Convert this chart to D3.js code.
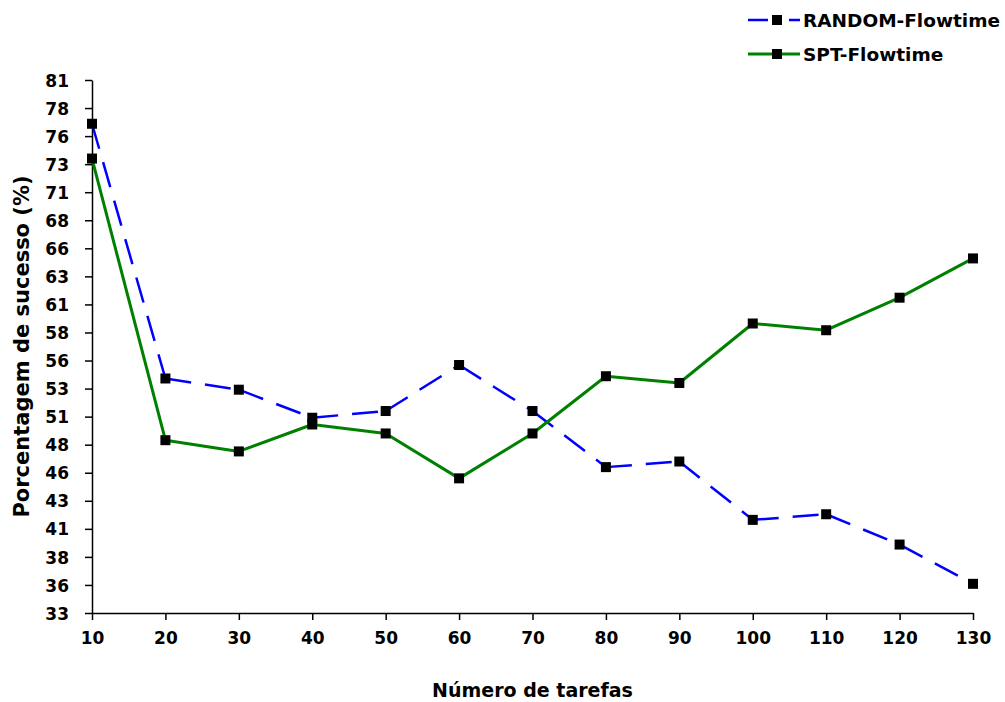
<!DOCTYPE html>
<html>
<head>
<meta charset="utf-8">
<script src="https://cdn.jsdelivr.net/npm/d3@7"></script>
<style>
    body { margin: 0; background: #fff; }
    text { font-family: "DejaVu Sans", "Liberation Sans", Arial, sans-serif; font-weight: bold; fill: #000; }
</style>
</head>
<body>
<div class="canvas"></div>
<script>
// data
const tarefas = [10, 20, 30, 40, 50, 60, 70, 80, 90, 100, 110, 120, 130];
const randomFlowtime = [76.6, 53.9, 52.9, 50.4, 51.0, 55.1, 51.0, 46.0, 46.5, 41.3, 41.8, 39.1, 35.6];
const sptFlowtime = [73.5, 48.4, 47.4, 49.8, 49.0, 45.0, 49.0, 54.1, 53.5, 58.8, 58.2, 61.1, 64.6];
const yTickLabels = [33, 36, 38, 41, 43, 46, 48, 51, 53, 56, 58, 61, 63, 66, 68, 71, 73, 76, 78, 81];
const seriesNames = ['RANDOM-Flowtime', 'SPT-Flowtime'];

const dims = { width: 1005, height: 702 };
const plot = { left: 92, right: 973, top: 80, bottom: 613 };

const svg = d3.select('.canvas')
    .append('svg')
    .attr('width', dims.width)
    .attr('height', dims.height);

// scales
const x = d3.scaleLinear()
    .domain([10, 130])
    .range([plot.left, plot.right]);

// excel-style axis: 33 to 80.5 in steps of 2.5, labels rounded
const yTickValues = d3.range(33, 81, 2.5);
const y = d3.scaleLinear()
    .domain([33, 80.5])
    .range([plot.bottom, plot.top]);

// x axis
const xAxis = svg.append('g')
    .attr('transform', `translate(0, ${plot.bottom})`)
    .call(d3.axisBottom(x).tickValues(tarefas).tickSize(7).tickPadding(12).tickSizeOuter(0));

// y axis
const yAxis = svg.append('g')
    .attr('transform', `translate(${plot.left}, 0)`)
    .call(d3.axisLeft(y)
        .tickValues(yTickValues)
        .tickSize(7)
        .tickPadding(16)
        .tickSizeOuter(0)
        .tickFormat((d, i) => yTickLabels[i]));

[xAxis, yAxis].forEach(ax => {
    ax.select('.domain').attr('stroke', '#000').attr('stroke-width', 1.5);
    ax.selectAll('.tick line').attr('stroke', '#000').attr('stroke-width', 1.5);
    ax.selectAll('.tick text')
        .attr('font-family', '"DejaVu Sans", sans-serif')
        .attr('font-weight', 'bold')
        .attr('font-size', 17)
        .attr('fill', '#000');
});
yAxis.selectAll('.tick text').attr('dy', '0.36em');

// axis titles
svg.append('text')
    .attr('x', (plot.left + plot.right) / 2)
    .attr('y', 697)
    .attr('text-anchor', 'middle')
    .attr('font-size', 19)
    .text('Número de tarefas');

svg.append('text')
    .attr('transform', `translate(29, ${(plot.top + plot.bottom) / 2}) rotate(-90)`)
    .attr('text-anchor', 'middle')
    .attr('font-size', 21)
    .text('Porcentagem de sucesso (%)');

// series
const series = [
    { name: seriesNames[0], values: randomFlowtime, color: '#0000ff', width: 2.5, dash: '26,14' },
    { name: seriesNames[1], values: sptFlowtime, color: '#008000', width: 3, dash: null }
];

const line = d3.line()
    .x(d => x(d[0]))
    .y(d => y(d[1]));

series.forEach(s => {
    const pts = tarefas.map((t, i) => [t, s.values[i]]);
    // each segment is drawn on its own so the dash pattern restarts at every marker
    svg.append('g')
        .selectAll('path')
        .data(d3.pairs(pts))
        .enter()
        .append('path')
        .attr('fill', 'none')
        .attr('stroke', s.color)
        .attr('stroke-width', s.width)
        .attr('stroke-dasharray', s.dash)
        .attr('d', line);
});

const marker = 10;
series.forEach(s => {
    svg.append('g')
        .selectAll('rect')
        .data(tarefas.map((t, i) => [t, s.values[i]]))
        .enter()
        .append('rect')
        .attr('x', d => x(d[0]) - marker / 2)
        .attr('y', d => y(d[1]) - marker / 2)
        .attr('width', marker)
        .attr('height', marker)
        .attr('fill', '#000');
});

// legend
const legend = svg.append('g')
    .attr('transform', 'translate(748, 20)');

const legendRows = legend.selectAll('.row')
    .data(series)
    .enter()
    .append('g')
    .attr('class', 'row')
    .attr('transform', (d, i) => `translate(0, ${i * 34})`);

legendRows.append('line')
    .attr('x1', 0)
    .attr('x2', 52)
    .attr('stroke', d => d.color)
    .attr('stroke-width', d => d.width)
    .attr('stroke-dasharray', d => d.dash ? '20,21,11' : null);

legendRows.append('rect')
    .attr('x', 29 - marker / 2)
    .attr('y', -marker / 2)
    .attr('width', marker)
    .attr('height', marker)
    .attr('fill', '#000');

legendRows.append('text')
    .attr('x', 55)
    .attr('dy', '0.36em')
    .attr('font-size', 18.5)
    .text(d => d.name);
</script>
</body>
</html>
